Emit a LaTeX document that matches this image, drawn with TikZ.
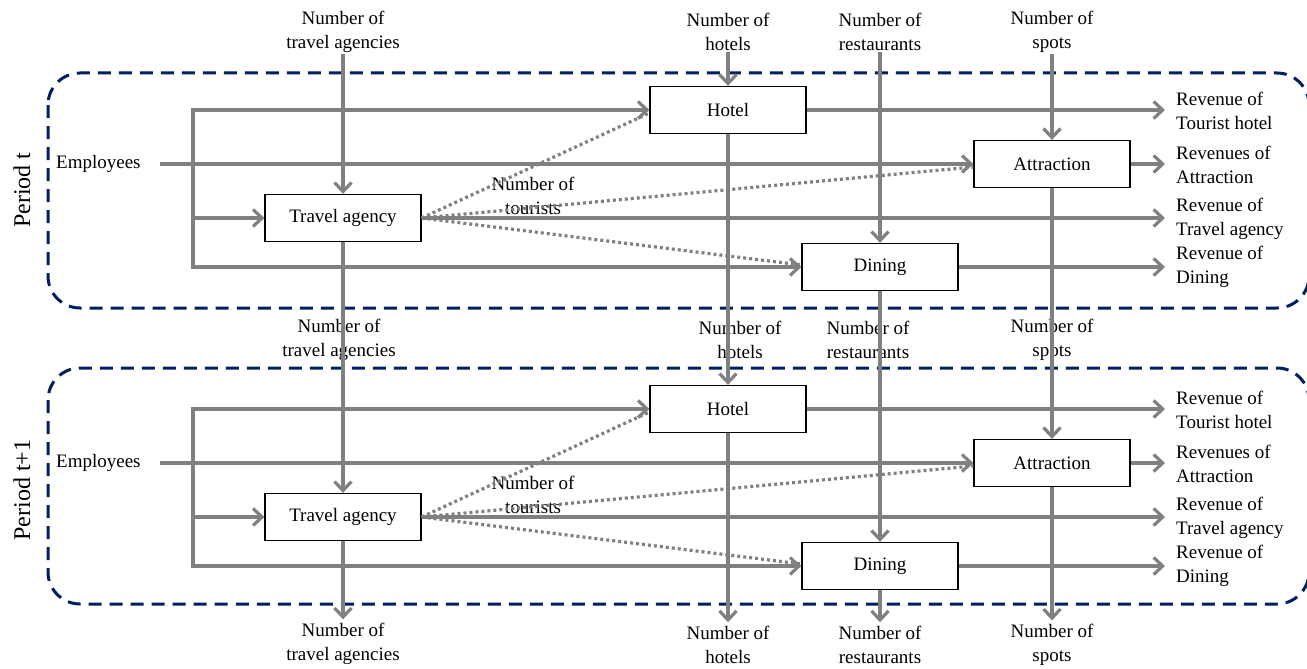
\documentclass[tikz,border=0pt]{standalone}
\usepackage{fontspec}
\setmainfont{Liberation Serif}
\usetikzlibrary{arrows.meta}
\definecolor{flowgray}{RGB}{128,128,128}
\definecolor{periodblue}{RGB}{0,32,96}

\begin{document}
\begin{tikzpicture}[x=1pt,y=-1pt,
	>={Straight Barb[length=9pt,width=17pt]},
	every node/.style={font=\fontsize{19}{23.5}\selectfont, align=center, inner sep=1pt},
	sector/.style={draw=black, line width=1.3pt, fill=white, minimum width=156pt, minimum height=47pt},
	plain/.style={draw=flowgray, line width=3.2pt},
	flow/.style={plain, ->},
	tourists/.style={plain, dash pattern=on 3pt off 3pt},
	period/.style={draw=periodblue, line width=3pt, dash pattern=on 13pt off 8pt, rounded corners=32pt},
	periodlabel/.style={rotate=90, font=\fontsize{24}{28}\selectfont}
	]
	\useasboundingbox (0,0) rectangle (1307,669);
	
	% Period frames
	\draw[period] (48,73) rectangle (1309,308);
	\draw[period] (48,368) rectangle (1309,604);
	\node[periodlabel] (perT) at (22,190) {Period t};
	\node[periodlabel] (perU) at (22,490) {Period t+1};
	
	% Sectors of period t
	\node[sector] (ta) at (343,218) {Travel agency};
	\node[sector] (hot) at (728,110) {Hotel};
	\node[sector] (att) at (1052,164) {Attraction};
	\node[sector] (din) at (880,267) {Dining};
	
	% Sectors of period t+1
	\node[sector] (ta2) at (343,517) {Travel agency};
	\node[sector] (hot2) at (728,409) {Hotel};
	\node[sector] (att2) at (1052,463) {Attraction};
	\node[sector] (din2) at (880,566) {Dining};
	
	% Stocks: above, between and below the periods
	\node (nta) at (343,32) {Number of\\travel agencies};
	\node (nhot) at (728,32) {Number of\\hotels};
	\node (ndin) at (880,32) {Number of\\restaurants};
	\node (natt) at (1052,32) {Number of\\spots};
	\node (nta1) at (339,340) {Number of\\travel agencies};
	\node (nhot1) at (740,340) {Number of\\hotels};
	\node (ndin1) at (868,340) {Number of\\restaurants};
	\node (natt1) at (1052,340) {Number of\\spots};
	\node (nta2) at (343,644) {Number of\\travel agencies};
	\node (nhot2) at (728,645) {Number of\\hotels};
	\node (ndin2) at (880,645) {Number of\\restaurants};
	\node (natt2) at (1052,645) {Number of\\spots};
	
	% Employees and tourists
	\node[anchor=west] (emp) at (55,164) {Employees};
	\node[anchor=west] (emp2) at (55,463) {Employees};
	\node (tour) at (533,196) {Number of\\tourists};
	\node (tour2) at (533,495) {Number of\\tourists};
	
	% Revenues
	\node[anchor=west, align=left] (rhot) at (1175,111) {Revenue of\\Tourist hotel};
	\node[anchor=west, align=left] (ratt) at (1175,165) {Revenues of\\Attraction};
	\node[anchor=west, align=left] (rta) at (1175,219) {Revenue of\\Travel agency};
	\node[anchor=west, align=left] (rdin) at (1175,267) {Revenue of\\Dining};
	\node[anchor=west, align=left] (rhot2) at (1175,410) {Revenue of\\Tourist hotel};
	\node[anchor=west, align=left] (ratt2) at (1175,464) {Revenues of\\Attraction};
	\node[anchor=west, align=left] (rta2) at (1175,518) {Revenue of\\Travel agency};
	\node[anchor=west, align=left] (rdin2) at (1175,566) {Revenue of\\Dining};
	
	% Bus lines on the left
	\coordinate (bus) at (193,0);
	
	% Flows of period t
	\draw[flow, <->] (hot.west) -- (bus |- hot.west) -- (bus |- din.west) -- (din.west);
	\draw[flow] (bus |- ta.west) -- (ta.west);
	\draw[flow] ([xshift=18pt]emp.east) -- (att.west);
	\draw[tourists] (ta.east) -- ([yshift=-3pt]hot.west);
	\draw[tourists] (ta.east) -- ([yshift=-3pt]att.west);
	\draw[tourists] (ta.east) -- ([yshift=2pt]din.west);
	\draw[flow, shorten >=10pt] (hot.east) -- (hot.east -| rhot.west);
	\draw[flow, shorten >=10pt] (att.east) -- (att.east -| ratt.west);
	\draw[flow, shorten >=10pt] (ta.east) -- (ta.east -| rta.west);
	\draw[flow, shorten >=10pt] (din.east) -- (din.east -| rdin.west);
	\draw[flow] (nta.south) -- (ta.north);
	\draw[flow] (nhot.south) -- (hot.north);
	\draw[flow] (ndin.south) -- (din.north);
	\draw[flow] (natt.south) -- (att.north);
	
	% From period t to period t+1
	\draw[flow] (ta.south) -- (ta2.north);
	\draw[flow] (hot.south) -- (hot2.north);
	\draw[flow] (din.south) -- (din2.north);
	\draw[flow] (att.south) -- (att2.north);
	
	% Flows of period t+1
	\draw[flow, <->] (hot2.west) -- (bus |- hot2.west) -- (bus |- din2.west) -- (din2.west);
	\draw[flow] (bus |- ta2.west) -- (ta2.west);
	\draw[flow] ([xshift=18pt]emp2.east) -- (att2.west);
	\draw[tourists] (ta2.east) -- ([yshift=-3pt]hot2.west);
	\draw[tourists] (ta2.east) -- ([yshift=-3pt]att2.west);
	\draw[tourists] (ta2.east) -- ([yshift=2pt]din2.west);
	\draw[flow, shorten >=10pt] (hot2.east) -- (hot2.east -| rhot2.west);
	\draw[flow, shorten >=10pt] (att2.east) -- (att2.east -| ratt2.west);
	\draw[flow, shorten >=10pt] (ta2.east) -- (ta2.east -| rta2.west);
	\draw[flow, shorten >=10pt] (din2.east) -- (din2.east -| rdin2.west);
	
	% Stocks left after period t+1
	\draw[flow, shorten >=3pt] (ta2.south) -- (ta2.south |- nta2.north);
	\draw[flow, shorten >=3pt] (hot2.south) -- (hot2.south |- nhot2.north);
	\draw[flow, shorten >=3pt] (din2.south) -- (din2.south |- ndin2.north);
	\draw[flow, shorten >=3pt] (att2.south) -- (att2.south |- natt2.north);
\end{tikzpicture}
\end{document}
